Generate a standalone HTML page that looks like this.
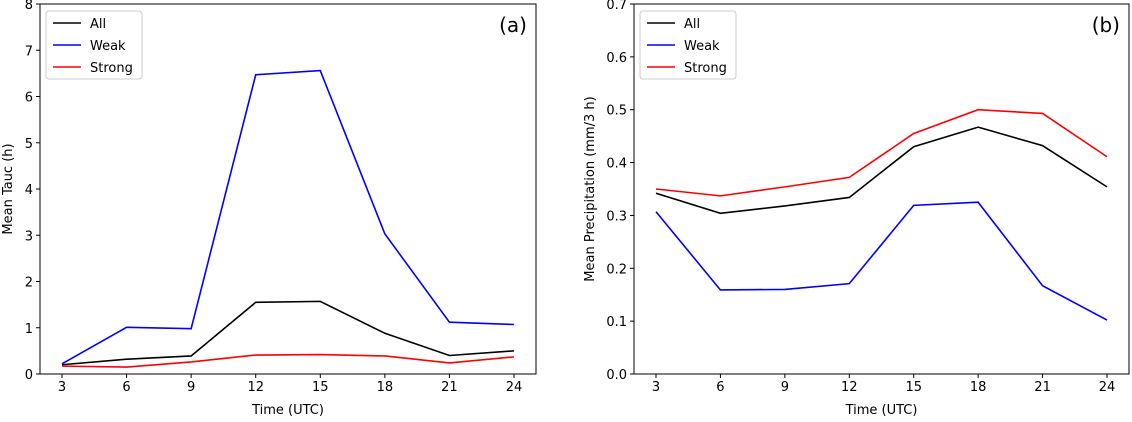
<!DOCTYPE html>
<html><head><meta charset="utf-8"><style>
body{margin:0;background:#fff;}
svg text{font-family:"DejaVu Sans","Liberation Sans",sans-serif;font-size:13px;fill:#000;}
</style></head><body>
<svg id="s" width="1132" height="417" xmlns="http://www.w3.org/2000/svg"></svg>
<script>
const hours=[3,6,9,12,15,18,21,24];
const tauAll=[0.20,0.32,0.39,1.55,1.57,0.88,0.40,0.50];
const tauWeak=[0.22,1.01,0.98,6.47,6.56,3.03,1.12,1.07];
const tauStrong=[0.17,0.15,0.26,0.41,0.42,0.39,0.24,0.37];
const prAll=[0.342,0.304,0.318,0.334,0.430,0.467,0.432,0.354];
const prWeak=[0.307,0.159,0.160,0.171,0.319,0.325,0.167,0.102];
const prStrong=[0.350,0.337,0.354,0.372,0.455,0.500,0.493,0.411];
const yTicksA=[0,1,2,3,4,5,6,7,8];
const yTicksB=[0.0,0.1,0.2,0.3,0.4,0.5,0.6,0.7];
const NS="http://www.w3.org/2000/svg";
const svg=document.getElementById('s');
function mk(t,a,p){const e=document.createElementNS(NS,t);for(const k in a)e.setAttribute(k,a[k]);(p||svg).appendChild(e);return e;}
function panel(o){
  const g=mk('g',{});
  
  
  const L=o.x0,R=o.x1,T=4,B=374;
  const xs=h=>L+22+(h-3)/21*(R-L-44);
  const ys=v=>B-(v-o.ymin)/(o.ymax-o.ymin)*(B-T);
  o.series.forEach(s=>{
    const p=mk('polyline',{points:s.v.map((v,i)=>xs(hours[i])+','+ys(v)).join(' '),fill:'none',stroke:s.c,'stroke-width':1.6},g);
    
    
  });
  mk('rect',{x:L,y:T,width:R-L,height:B-T,fill:'none',stroke:'#000','stroke-width':1},g);
  hours.forEach(h=>{const x=xs(h);mk('line',{x1:x,x2:x,y1:B,y2:B+4,stroke:'#000'},g);
    const t=mk('text',{x:x,y:B+17,'text-anchor':'middle'},g);t.textContent=h;
    });
  o.yt.forEach(v=>{const y=ys(v);mk('line',{x1:L-4,x2:L,y1:y,y2:y,stroke:'#000'},g);
    const t=mk('text',{x:L-7,y:y+5,'text-anchor':'end'},g);t.textContent=o.fmt(v);
    });
  const xt=mk('text',{x:(L+R)/2,y:414,'text-anchor':'middle'},g);xt.textContent='Time (UTC)';
  
  const yt=mk('text',{x:0,y:0,'text-anchor':'middle',transform:`translate(${o.ylx},${(T+B)/2}) rotate(-90)`},g);yt.textContent=o.ylab;
  
  const pl=mk('text',{x:R-9,y:32,'text-anchor':'end','font-size':'20'},g);pl.textContent=o.label;pl.style.fontSize='20px';
  
  const lg=mk('g',{},g);
  mk('rect',{x:L+6,y:11,width:96,height:68,rx:3,fill:'#fff',stroke:'#ccc'},lg);
  o.series.forEach((s,i)=>{const y=23+i*22;
    mk('line',{x1:L+13,x2:L+41,y1:y,y2:y,stroke:s.c,'stroke-width':1.6},lg);
    const t=mk('text',{x:L+50,y:y+5},lg);t.textContent=s.n;
    });
}
panel({name:'panel-a',x0:40,x1:536,ymin:0,ymax:8,yt:yTicksA,fmt:v=>v,ylab:'Mean Tauc (h)',ylx:12,label:'(a)',
 series:[{n:'All',c:'#000',v:tauAll},{n:'Weak',c:'#0000ff',v:tauWeak},{n:'Strong',c:'#ff0000',v:tauStrong}]});
panel({name:'panel-b',x0:634,x1:1129,ymin:0,ymax:0.7,yt:yTicksB,fmt:v=>v.toFixed(1),ylab:'Mean Precipitation (mm/3 h)',ylx:594,label:'(b)',
 series:[{n:'All',c:'#000',v:prAll},{n:'Weak',c:'#0000ff',v:prWeak},{n:'Strong',c:'#ff0000',v:prStrong}]});
</script>
</body></html>
